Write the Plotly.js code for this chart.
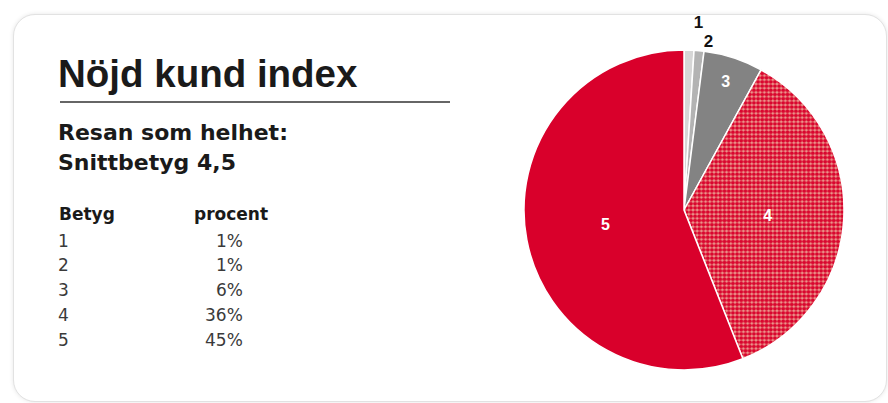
<!DOCTYPE html>
<html>
<head>
<meta charset="utf-8">
<script src="https://cdn.plot.ly/plotly-3.0.1.min.js"></script>
<style>
  html, body { margin: 0; padding: 0; background: #ffffff; }
  #wrap { position: relative; width: 888px; height: 403px; overflow: hidden; background: #fff; }
  #card { position: absolute; left: 13px; top: 14px; width: 872px; height: 386px;
          border: 1px solid #e2e2e2; border-radius: 22px; box-shadow: 0 0 4px rgba(0,0,0,0.10); background: #fff; }
  #chart { position: absolute; left: 0; top: 0; width: 888px; height: 403px; }
  #chart path.textline { display: none !important; }
</style>
</head>
<body>
<div id="wrap">
  <div id="card"></div>
  <div id="chart"></div>
</div>
<script>
// ---- data ----
const titleText = 'Nöjd kund index';
const subtitleLines = ['Resan som helhet:', 'Snittbetyg 4,5'];
const tableHeaders = ['Betyg', 'procent'];
const grades = ['1', '2', '3', '4', '5'];
const tablePercent = ['1%', '1%', '6%', '36%', '45%'];
const pieValues = [1, 1, 6, 36, 56];   // slice sizes as drawn in the pie
const sliceColors = ['#d6d6d6', '#b3b3b3', '#838383', '#e6978a', '#d9002b'];
const textColors = ['#111111', '#111111', '#ffffff', '#ffffff', '#ffffff'];
const textPositions = ['outside', 'outside', 'inside', 'inside', 'inside'];
const patternShapes = ['', '', '', '.', ''];

// ---- helpers (pixel -> paper) ----
const W = 888, H = 403;
const px = x => x / W;
const py = y => 1 - y / H;

const cx = 684, cy = 210, R = 160;

const trace = {
  type: 'pie',
  values: pieValues,
  labels: grades,
  text: grades,
  textinfo: 'text',
  hoverinfo: 'none',
  sort: false,
  direction: 'clockwise',
  rotation: 0,
  textposition: textPositions,
  insidetextorientation: 'horizontal',
  textfont: { family: 'Liberation Sans, Arial, sans-serif', size: 16, color: textColors, weight: 'bold' },
  outsidetextfont: { family: 'Liberation Sans, Arial, sans-serif', size: 17, color: '#111111', weight: 'bold' },
  insidetextfont: { family: 'Liberation Sans, Arial, sans-serif', size: 16, color: '#ffffff', weight: 'bold' },
  marker: {
    colors: sliceColors,
    line: { color: '#ffffff', width: 1.5 },
    pattern: {
      shape: patternShapes,
      fgcolor: '#d9062e',
      bgcolor: '#eca293',
      size: 4.2,
      solidity: 0.7,
      fillmode: 'replace'
    }
  },
  domain: { x: [px(cx - R), px(cx + R)], y: [py(cy + R), py(cy - R)] },
  automargin: false,
  showlegend: false
};

const annotations = [];
function addText(text, x, y, size, family, bold, color, anchor) {
  annotations.push({
    text: bold ? '<b>' + text + '</b>' : text,
    xref: 'paper', yref: 'paper', x: px(x), y: py(y),
    xanchor: anchor || 'left', yanchor: 'middle',
    showarrow: false, borderpad: 0, borderwidth: 0,
    font: { family: family, size: size, color: color }
  });
}
const dv = 'DejaVu Sans, sans-serif';
addText(titleText, 57.5, 74, 38.5, 'Liberation Sans, Arial, sans-serif', true, '#1a1a1a');
subtitleLines.forEach((s, i) => addText(s, 58, 132 + i * 30, 22, dv, true, '#1a1a1a'));
addText(tableHeaders[0], 58.5, 214, 17, dv, true, '#1a1a1a');
addText(tableHeaders[1], 194, 214, 17, dv, true, '#1a1a1a');
grades.forEach((g, i) => {
  const y = 240.5 + i * 24.8;
  addText(g, 58.5, y, 17, dv, false, '#3a3a3a');
  addText(tablePercent[i], 243, y, 17, dv, false, '#3a3a3a', 'right');
});

const layout = {
  width: W, height: H,
  margin: { l: 0, r: 0, t: 0, b: 0 },
  paper_bgcolor: 'rgba(0,0,0,0)',
  plot_bgcolor: 'rgba(0,0,0,0)',
  showlegend: false,
  annotations: annotations,
  shapes: [{
    type: 'line', xref: 'paper', yref: 'paper',
    x0: px(60), x1: px(450), y0: py(102), y1: py(102),
    line: { color: '#333333', width: 1.5 }
  }]
};

Plotly.newPlot('chart', [trace], layout, { staticPlot: true, displayModeBar: false });
</script>
</body>
</html>
